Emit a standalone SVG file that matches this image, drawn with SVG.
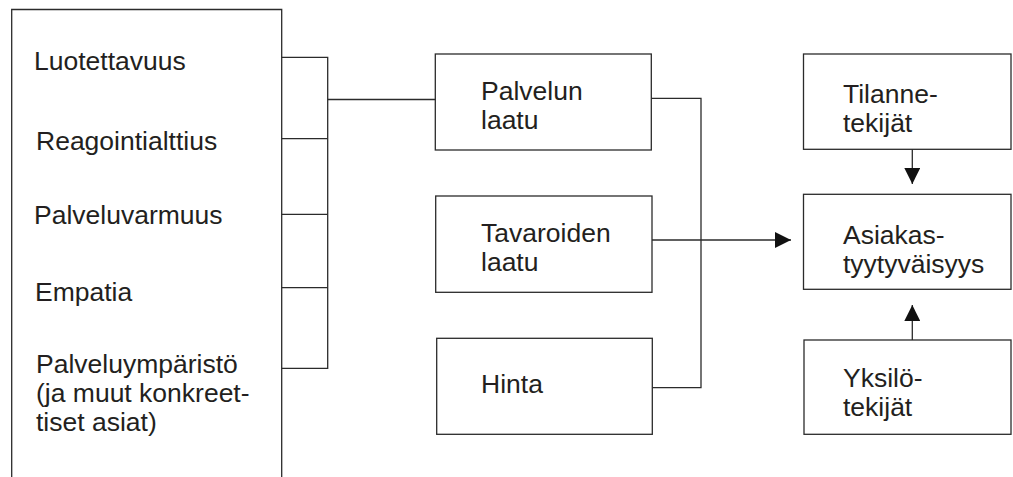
<svg xmlns="http://www.w3.org/2000/svg" width="1013" height="477" viewBox="0 0 1013 477">
  <style>
    .box { fill: #ffffff; stroke: #2b2b2b; stroke-width: 1.3; }
    .ln { fill: none; stroke: #2b2b2b; stroke-width: 1.3; }
    text { font-family: "Liberation Sans", Arial, sans-serif; font-size: 26.5px; fill: #231f20; }
  </style>
  <defs>
    <marker id="head" viewBox="0 0 16 16" refX="16" refY="8" markerWidth="16" markerHeight="16" markerUnits="userSpaceOnUse" orient="auto">
      <path d="M0,0 L16,8 L0,16 Z" fill="#111111"/>
    </marker>
  </defs>

  <rect width="1013" height="477" fill="#ffffff"/>

  <!-- dimension list: open-bottomed frame -->
  <g id="dimensions">
    <path class="ln" d="M11.7,477 V9.5 H281.7 V477"/>
    <text x="34" y="70">Luotettavuus</text>
    <text x="36" y="150">Reagointialttius</text>
    <text x="34" y="224">Palveluvarmuus</text>
    <text x="35" y="301">Empatia</text>
    <text x="36" y="373">Palveluympäristö</text>
    <text x="36" y="402">(ja muut konkreet-</text>
    <text x="36" y="431">tiset asiat)</text>
  </g>

  <g id="palvelun-laatu">
    <rect class="box" x="435.3" y="54" width="216" height="96"/>
    <text x="481" y="100">Palvelun</text>
    <text x="481" y="129">laatu</text>
  </g>

  <g id="tavaroiden-laatu">
    <rect class="box" x="435.7" y="196" width="216.3" height="96.3"/>
    <text x="481" y="242">Tavaroiden</text>
    <text x="481" y="271">laatu</text>
  </g>

  <g id="hinta">
    <rect class="box" x="436.7" y="338.3" width="215.6" height="96"/>
    <text x="481" y="393">Hinta</text>
  </g>

  <g id="tilannetekijat">
    <rect class="box" x="803.5" y="54" width="207.5" height="95.3"/>
    <text x="843" y="103">Tilanne-</text>
    <text x="843" y="132">tekijät</text>
  </g>

  <g id="asiakastyytyvaisyys">
    <rect class="box" x="803.5" y="194.3" width="207.5" height="95"/>
    <text x="843" y="244">Asiakas-</text>
    <text x="843" y="273">tyytyväisyys</text>
  </g>

  <g id="yksilotekijat">
    <rect class="box" x="804" y="340" width="207" height="94.3"/>
    <text x="843" y="387">Yksilö-</text>
    <text x="843" y="416">tekijät</text>
  </g>

  <g id="connectors">
    <!-- bracket joining the five dimensions -->
    <path class="ln" d="M281.7,57.3 H327.7 V368.3 H281.7"/>
    <path class="ln" d="M281.7,138.7 H327.7 M281.7,214.3 H327.7 M281.7,287.7 H327.7"/>
    <path class="ln" d="M327.7,99.5 H435.3"/>
    <!-- quality and price feeding satisfaction -->
    <path class="ln" d="M651.3,98.3 H701 V387.7 H652.3"/>
    <path class="ln" d="M652,240 H791" marker-end="url(#head)"/>
    <path class="ln" d="M912.3,149.3 V184" marker-end="url(#head)"/>
    <path class="ln" d="M912.3,340 V305" marker-end="url(#head)"/>
  </g>
</svg>
